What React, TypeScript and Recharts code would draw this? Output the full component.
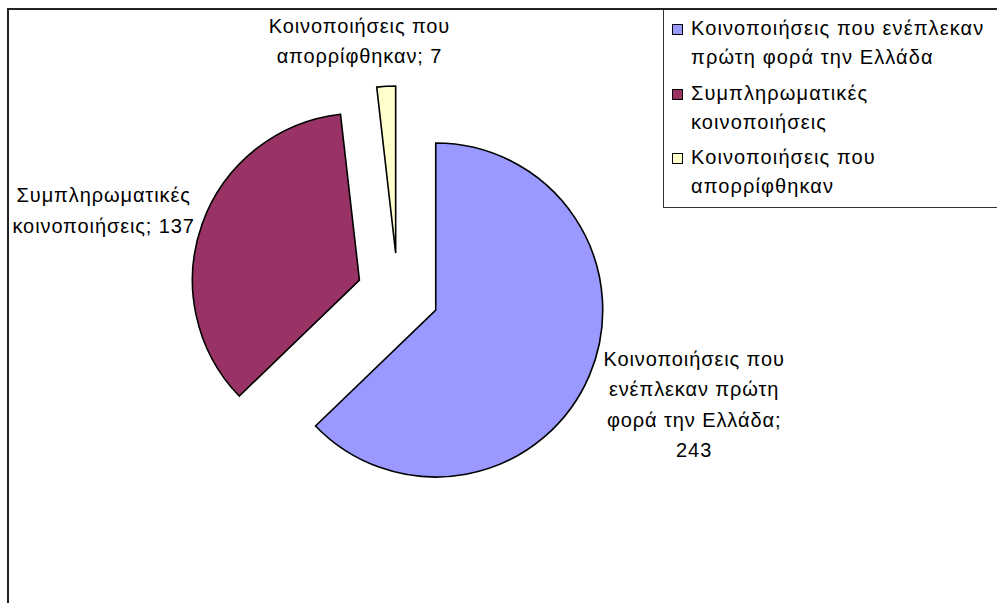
import React from "react";
import { PieChart, Pie, Cell, Sector, Legend } from "recharts";

const NAMES = [
  "Κοινοποιήσεις που ενέπλεκαν πρώτη φορά την Ελλάδα",
  "Συμπληρωματικές κοινοποιήσεις",
  "Κοινοποιήσεις που απορρίφθηκαν",
];
const VALUES = [243, 137, 7];
const COLORS = ["#9999FF", "#993366", "#FFFFCC"];

const data = NAMES.map((name, i) => ({ name, value: VALUES[i] }));

const FONT = "'Liberation Sans', Arial, sans-serif";
const EXPLODE = 41;
const RAD = Math.PI / 180;

// label placement: distance from pie centre and angle shift from slice middle
const LABEL_RADIUS = [316, 306, 256];
const LABEL_SHIFT = [2.6, 3.9, 5.4];

const wrap = (text: string, max: number) => {
  const lines: string[] = [];
  let cur = "";
  text.split(" ").forEach((w) => {
    if (!cur) cur = w;
    else if ((cur + " " + w).length <= max) cur = cur + " " + w;
    else {
      lines.push(cur);
      cur = w;
    }
  });
  if (cur) lines.push(cur);
  return lines;
};

const ExplodedSector = (props: any) => {
  const { cx, cy, midAngle } = props;
  const dx = EXPLODE * Math.cos(-midAngle * RAD);
  const dy = EXPLODE * Math.sin(-midAngle * RAD);
  return <Sector {...props} cx={cx + dx} cy={cy + dy} />;
};

const renderLabel = (props: any) => {
  const { cx, cy, midAngle, index, name, value } = props;
  const a = (midAngle + LABEL_SHIFT[index]) * RAD;
  const x = cx + LABEL_RADIUS[index] * Math.cos(-a);
  const y = cy + LABEL_RADIUS[index] * Math.sin(-a);
  const lines = wrap(`${name}; ${value}`, 18);
  const lh = 30.5;
  const y0 = y - ((lines.length - 1) * lh) / 2;
  return (
    <text
      x={x}
      y={y0}
      textAnchor="middle"
      dominantBaseline="central"
      fontFamily={FONT}
      fontSize={20}
      letterSpacing={0.9}
      fill="#000"
    >
      {lines.map((l, i) => (
        <tspan key={i} x={x} y={y0 + i * lh}>
          {l}
        </tspan>
      ))}
    </text>
  );
};

const renderLegend = () => (
  <div
    style={{
      width: 334,
      height: 198,
      boxSizing: "border-box",
      borderLeft: "1.5px solid #333",
      borderBottom: "1.5px solid #333",
      background: "#fff",
      fontFamily: FONT,
      fontSize: 20,
      letterSpacing: 1.1,
      color: "#000",
      paddingTop: 4,
    }}
  >
    {NAMES.map((n, i) => (
      <div key={n} style={{ position: "relative", paddingLeft: 27, height: 64.5 }}>
        <span
          style={{
            position: "absolute",
            left: 8,
            top: 10,
            width: 9,
            height: 9,
            background: COLORS[i],
            border: "1px solid #000",
          }}
        />
        {wrap(n, 27).map((l, k) => (
          <div key={k} style={{ lineHeight: "29px", whiteSpace: "nowrap" }}>
            {l}
          </div>
        ))}
      </div>
    ))}
  </div>
);

export default function App() {
  return (
    <div
      style={{
        position: "absolute",
        left: 0,
        top: 0,
        width: 997,
        height: 603,
        background: "#fff",
        overflow: "hidden",
      }}
    >
      <div
        style={{
          position: "absolute",
          left: 7,
          top: 8,
          width: 1000,
          height: 700,
          borderTop: "2px solid #222",
          borderLeft: "2px solid #222",
        }}
      />
      <div style={{ position: "absolute", left: 0, top: 0 }}>
        <PieChart width={997} height={603}>
          <Pie
            data={data}
            dataKey="value"
            nameKey="name"
            cx={393}
            cy={289}
            outerRadius={167}
            startAngle={90}
            endAngle={-270}
            stroke="#000"
            strokeWidth={1.6}
            shape={ExplodedSector}
            label={renderLabel}
            labelLine={false}
            isAnimationActive={false}
          >
            {data.map((d, i) => (
              <Cell key={d.name} fill={COLORS[i]} />
            ))}
          </Pie>
          <Legend
            content={renderLegend}
            wrapperStyle={{ position: "absolute", left: 663, top: 10, width: 334 }}
          />
        </PieChart>
      </div>
    </div>
  );
}
